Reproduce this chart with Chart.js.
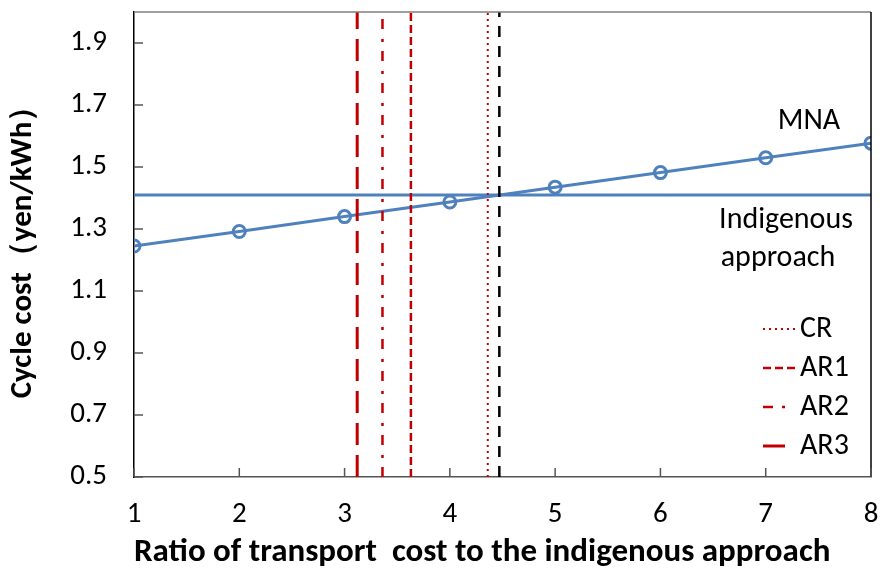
<!DOCTYPE html>
<html>
<head>
<meta charset="utf-8">
<script src="https://cdn.jsdelivr.net/npm/chart.js@4"></script>
<style>
  html, body { margin: 0; padding: 0; background: #fff; }
  #wrap { width: 880px; height: 571px; }
</style>
</head>
<body>
<div id="wrap"><canvas id="myChart"></canvas></div>
<script>
const ratios = [1, 2, 3, 4, 5, 6, 7, 8];
const mnaCost = [1.245, 1.292, 1.340, 1.387, 1.435, 1.482, 1.530, 1.577];
const indigenousCost = 1.41;
const yTicks = [0.5, 0.7, 0.9, 1.1, 1.3, 1.5, 1.7, 1.9];
const xTicks = [1, 2, 3, 4, 5, 6, 7, 8];
const yRange = [0.5, 2.0];
const xRange = [1, 8];

// break-even ratios for each case
const caseNames = ['CR', 'AR1', 'AR2', 'AR3'];
const caseRatios = [4.36, 3.63, 3.36, 3.12];
const blackRatio = 4.47;

const fontFamily = "Carlito, Lato, 'Liberation Sans', sans-serif";
const blue = '#4F81BD';
const red = '#C00000';

const caseStyles = {
  CR: { dash: [2, 4], width: 2 },
  AR1: { dash: [8, 4], width: 2.5 },
  AR2: { dash: [10, 9, 3, 10], width: 2.5 },
  AR3: { dash: [22, 10], width: 3 },
};

function verticalLine(label, x, color, style, inLegend) {
  return {
    label: label,
    data: [{ x: x, y: yRange[0] }, { x: x, y: yRange[1] }],
    borderColor: color,
    borderWidth: style.width,
    borderDash: style.dash,
    pointRadius: 0,
    showLine: true,
    order: 0,
    inLegend: inLegend,
  };
}

const datasets = [
  {
    label: 'MNA',
    data: ratios.map((r, i) => ({ x: r, y: mnaCost[i] })),
    borderColor: blue,
    borderWidth: 3,
    pointRadius: 6,
    pointBorderWidth: 3,
    pointBackgroundColor: 'rgba(255,255,255,0)',
    pointBorderColor: blue,
    showLine: true,
    order: 2,
  },
  {
    label: 'Indigenous approach',
    data: [{ x: xRange[0], y: indigenousCost }, { x: xRange[1], y: indigenousCost }],
    borderColor: blue,
    borderWidth: 3,
    pointRadius: 0,
    showLine: true,
    order: 2,
  },
];
caseNames.forEach((name, i) => {
  datasets.push(verticalLine(name, caseRatios[i], red, caseStyles[name], true));
});
datasets.push(verticalLine('', blackRatio, '#000', { dash: [11, 9], width: 2.5 }, false));

// frame, inward ticks, in-plot labels and legend
const decorPlugin = {
  id: 'decor',
  afterDraw(chart) {
    const ctx = chart.ctx;
    const a = chart.chartArea;
    const xs = chart.scales.x;
    const ys = chart.scales.y;
    ctx.save();
    ctx.lineWidth = 1.5;
    ctx.strokeStyle = '#7f7f7f';
    ctx.beginPath();
    ctx.moveTo(a.left, a.top);
    ctx.lineTo(a.right, a.top);
    ctx.stroke();
    ctx.strokeStyle = '#000';
    ctx.beginPath();
    ctx.moveTo(a.right, a.top);
    ctx.lineTo(a.right, a.bottom);
    ctx.stroke();

    ctx.strokeStyle = '#555';
    yTicks.forEach(v => {
      const y = ys.getPixelForValue(v);
      ctx.beginPath();
      ctx.moveTo(a.left, y);
      ctx.lineTo(a.left + 9, y);
      ctx.stroke();
    });
    xTicks.forEach(v => {
      const x = xs.getPixelForValue(v);
      ctx.beginPath();
      ctx.moveTo(x, a.bottom);
      ctx.lineTo(x, a.bottom - 9);
      ctx.stroke();
    });

    ctx.fillStyle = '#000';
    ctx.font = '30px ' + fontFamily;
    ctx.textAlign = 'center';
    ctx.textBaseline = 'middle';
    ctx.fillText('MNA', 809, 121);
    ctx.fillText('Indigenous', 786, 220);
    ctx.fillText('approach', 778, 258);

    // legend
    let ly = 329;
    chart.data.datasets.forEach(ds => {
      if (!ds.inLegend) return;
      ctx.strokeStyle = ds.borderColor;
      ctx.lineWidth = ds.borderWidth;
      ctx.setLineDash(ds.borderDash || []);
      ctx.beginPath();
      ctx.moveTo(763, ly);
      ctx.lineTo(795, ly);
      ctx.stroke();
      ctx.setLineDash([]);
      ctx.textAlign = 'left';
      ctx.fillText(ds.label, 800, ly);
      ly += 39;
    });
    ctx.restore();
  },
};

new Chart(document.getElementById('myChart'), {
  type: 'scatter',
  data: { datasets: datasets },
  options: {
    responsive: true,
    maintainAspectRatio: false,
    animation: false,
    layout: { padding: { top: 12, right: 7, left: 0, bottom: 0 } },
    plugins: {
      legend: { display: false },
      tooltip: { enabled: false },
    },
    scales: {
      x: {
        type: 'linear',
        min: xRange[0],
        max: xRange[1],
        afterBuildTicks: s => { s.ticks = xTicks.map(v => ({ value: v })); },
        afterFit: s => {
          s.height = 94;
          s.paddingLeft = 0;
          s.paddingRight = 0;
        },
        grid: { drawOnChartArea: false, drawTicks: false },
        border: { color: '#555', width: 1.5 },
        ticks: {
          padding: 20,
          color: '#000',
          font: { family: fontFamily, size: 29 },
        },
        title: {
          display: true,
          align: 'start',
          text: 'Ratio of transport  cost to the indigenous approach',
          color: '#000',
          font: { family: fontFamily, size: 33, weight: 'bold' },
          padding: { top: 0, bottom: -2 },
        },
      },
      y: {
        type: 'linear',
        min: yRange[0],
        max: yRange[1],
        afterBuildTicks: s => { s.ticks = yTicks.map(v => ({ value: v })); },
        afterFit: s => {
          s.width = 134;
          s.paddingTop = 0;
          s.paddingBottom = 0;
        },
        grid: { drawOnChartArea: false, drawTicks: false },
        border: { color: '#000', width: 1.5 },
        ticks: {
          padding: 27,
          color: '#000',
          font: { family: fontFamily, size: 29 },
          callback: v => v.toFixed(1),
        },
        title: {
          display: true,
          text: 'Cycle cost（yen/kWh）',
          color: '#000',
          font: { family: fontFamily, size: 31, weight: 'bold' },
          padding: { top: 5, bottom: 0 },
        },
      },
    },
  },
  plugins: [decorPlugin],
});
</script>
</body>
</html>
